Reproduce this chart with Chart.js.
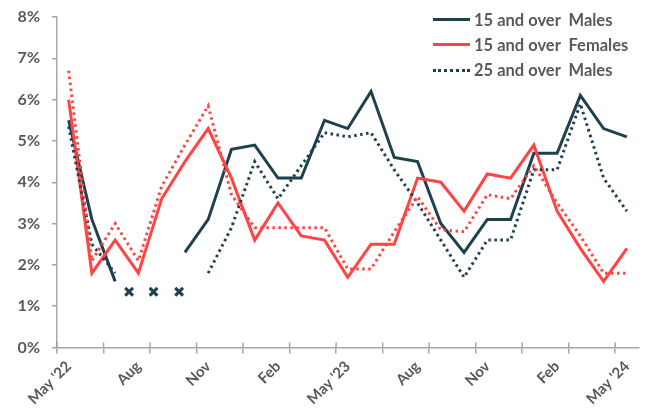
<!DOCTYPE html>
<html>
<head>
<meta charset="utf-8">
<script src="https://cdn.jsdelivr.net/npm/chart.js@4.4.0/dist/chart.umd.min.js"></script>
<style>
  body { margin: 0; background: #fff; }
  #wrap { position: relative; width: 647px; height: 410px; }
  #legend { position: absolute; left: 433px; top: 7px; font-family: Lato, sans-serif; font-weight: bold; font-size: 16.5px; color: #595959; white-space: pre; }
  .row { display: flex; align-items: center; height: 25.3px; }
  .swatch { width: 37px; height: 0; margin-right: 4px; }
</style>
</head>
<body>
<div id="wrap">
  <canvas id="myChart"></canvas>
  <div id="legend"></div>
</div>
<script>
const months = ["May '22","Jun","Jul","Aug","Sep","Oct","Nov","Dec","Jan","Feb","Mar","Apr",
  "May '23","Jun","Jul","Aug","Sep","Oct","Nov","Dec","Jan","Feb","Mar","Apr","May '24"]
const males15 = [5.5, 3.1, 1.6, null, null, 2.3, 3.1, 4.8, 4.9, 4.1, 4.1, 5.5, 5.3, 6.2, 4.6, 4.5, 3.0, 2.3, 3.1, 3.1, 4.7, 4.7, 6.1, 5.3, 5.1]
const females15 = [6.0, 1.8, 2.6, 1.8, 3.6, 4.5, 5.3, 4.1, 2.6, 3.5, 2.7, 2.6, 1.7, 2.5, 2.5, 4.1, 4.0, 3.3, 4.2, 4.1, 4.9, 3.3, 2.4, 1.6, 2.4]
const males25 = [5.35, 2.5, 1.8, null, null, null, 1.8, 2.9, 4.5, 3.6, 4.4, 5.2, 5.1, 5.2, 4.3, 3.5, 2.6, 1.7, 2.6, 2.6, 4.3, 4.3, 5.9, 4.1, 3.3]
const females25 = [6.7, 2.1, 3.0, 2.1, 3.9, 4.9, 5.85, 3.7, 2.9, 2.9, 2.9, 2.9, 1.9, 1.9, 2.8, 3.65, 2.85, 2.8, 3.7, 3.6, 4.4, 3.5, 2.7, 1.8, 1.8]
// "x" marks where data is missing
const missingX = [2.6, 3.65, 4.75]
const missingY = 1.35
const yTicks = [0, 1, 2, 3, 4, 5, 6, 7, 8]

const teal = '#1f414d'
const red = '#ff4444'
const grey = '#595959'
const axisGrey = '#a6a6a6'

const legendItems = [
  { text: '15 and over  Males', color: teal, style: 'solid' },
  { text: '15 and over  Females', color: red, style: 'solid' },
  { text: '25 and over  Males', color: teal, style: 'dotted' }
]
const legend = document.getElementById('legend')
legendItems.forEach(item => {
  let row = document.createElement('div')
  row.className = 'row'
  let sw = document.createElement('span')
  sw.className = 'swatch'
  sw.style.borderTop = '3px ' + item.style + ' ' + item.color
  let label = document.createElement('span')
  label.textContent = item.text
  row.appendChild(sw)
  row.appendChild(label)
  legend.appendChild(row)
})

Chart.defaults.font.family = 'Lato, sans-serif'
Chart.defaults.font.weight = 'bold'
Chart.defaults.color = grey

const lineDs = (data, color, dotted) => ({
  type: 'line',
  data: data,
  borderColor: color,
  backgroundColor: color,
  borderWidth: 3,
  borderDash: dotted ? [2.5, 3.5] : [],
  pointRadius: 0,
  tension: 0,
  spanGaps: false,
  xAxisID: 'x'
})

// x tick marks cross the axis line, draw the part above it
const tickUp = {
  id: 'tickUp',
  afterDraw(chart) {
    const s = chart.scales.x
    const c = chart.ctx
    const w = (s.right - s.left) / months.length
    c.save()
    c.strokeStyle = axisGrey
    c.lineWidth = 1.5
    for (let i = 0; i < months.length; i += 2) {
      const px = s.getPixelForValue(i) - w / 2
      c.beginPath()
      c.moveTo(px, s.top - 5)
      c.lineTo(px, s.top)
      c.stroke()
    }
    c.restore()
  }
}

const config = {
  type: 'line',
  data: {
    labels: months,
    datasets: [
      lineDs(females25, red, true),
      lineDs(males25, teal, true),
      lineDs(females15, red, false),
      lineDs(males15, teal, false),
      {
        type: 'scatter',
        data: missingX.map(x => ({ x: x, y: missingY })),
        xAxisID: 'xm',
        pointStyle: 'crossRot',
        pointRadius: 5.5,
        borderWidth: 3,
        borderColor: teal,
        backgroundColor: teal,
        showLine: false
      }
    ]
  },
  options: {
    responsive: true,
    maintainAspectRatio: false,
    animation: false,
    layout: { padding: 0 },
    plugins: { legend: { display: false }, tooltip: { enabled: false } },
    scales: {
      x: {
        type: 'category',
        offset: true,
        border: { color: axisGrey, width: 1.5 },
        grid: {
          offset: true,
          drawOnChartArea: false,
          tickLength: 6,
          lineWidth: 1.5,
          color: ctx => ctx.index % 2 === 0 ? axisGrey : 'rgba(0,0,0,0)'
        },
        ticks: {
          autoSkip: false,
          minRotation: 45,
          maxRotation: 45,
          padding: 4,
          font: { size: 15 },
          callback: function (v, i) { return i % 3 === 0 ? months[i] : '' }
        },
        afterFit: s => { s.height = 62.5 }
      },
      xm: {
        type: 'linear',
        display: false,
        min: -0.5,
        max: 24.5,
        offset: false
      },
      y: {
        min: 0,
        max: 8,
        border: { color: axisGrey, width: 1.5 },
        grid: { drawOnChartArea: false, tickLength: 5, lineWidth: 1.5, color: axisGrey },
        afterBuildTicks: s => { s.ticks = yTicks.map(v => ({ value: v })) },
        ticks: {
          padding: 12,
          font: { size: 16 },
          callback: v => v + '%'
        },
        afterFit: s => { s.width = 57; s.paddingTop = 17 }
      }
    }
  },
  plugins: [tickUp]
}

new Chart(document.getElementById('myChart'), config)
</script>
</body>
</html>
